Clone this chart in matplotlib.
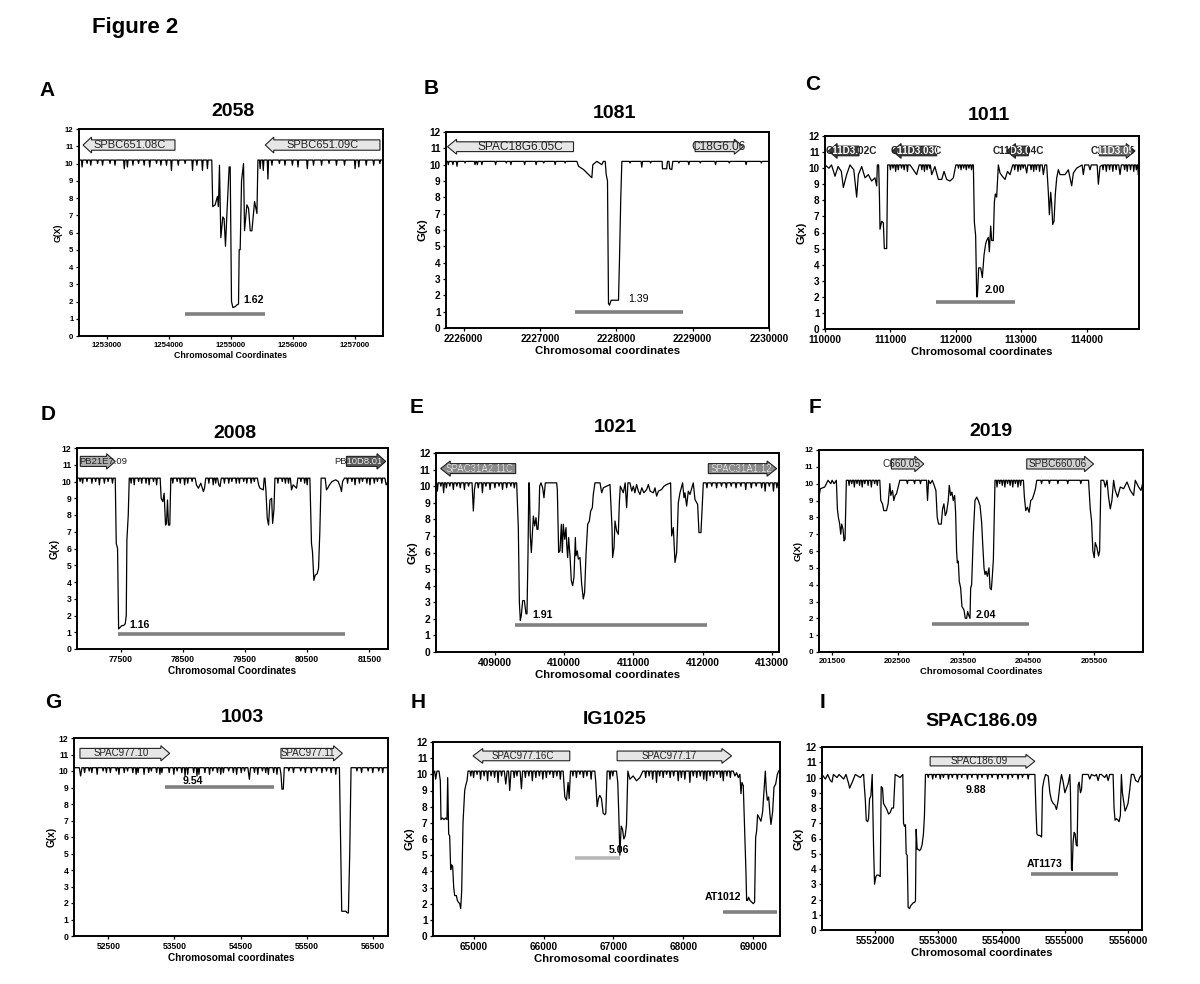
import matplotlib
matplotlib.use('Agg')
import matplotlib.pyplot as plt
from matplotlib.patches import Polygon
from matplotlib.transforms import Bbox, TransformedBbox

plt.rcParams['font.family'] = ['Liberation Sans', 'DejaVu Sans']

BASE = 10.2

# ---------------- data ----------------
A_trace = [(1252550, 10.2), (1254690, 10.2), (1254706, 7.5), (1254744, 7.6), (1254782, 8.1), (1254798, 7.5),
           (1254814, 9.9), (1254836, 5.7), (1254868, 6.9), (1254889, 6.8), (1254911, 5.2), (1254933, 7.0),
           (1254970, 9.8), (1254987, 9.8), (1255008, 2.0), (1255030, 1.65), (1255067, 1.7), (1255094, 1.8),
           (1255121, 1.85), (1255132, 5.0), (1255148, 5.0), (1255170, 9.0), (1255202, 10.0), (1255218, 6.1),
           (1255256, 7.6), (1255283, 7.4), (1255310, 6.1), (1255337, 6.1), (1255380, 7.8), (1255418, 7.1),
           (1255434, 10.2), (1257450, 10.2)]
A_flick = [(1252600, 9.8), (1252680, 10.0), (1252740, 9.9), (1252850, 10.0), (1252930, 9.9), (1253050, 10.0),
           (1253130, 9.9), (1253280, 9.7), (1253330, 9.8), (1253420, 9.9), (1253510, 10.0), (1253600, 9.9),
           (1253690, 9.8), (1253800, 10.0), (1253870, 9.9), (1253960, 9.9), (1254040, 9.6), (1254150, 9.9),
           (1254260, 10.0), (1254380, 9.6), (1254450, 9.9), (1254540, 9.6), (1254620, 9.7), (1255470, 9.7),
           (1255520, 9.6), (1255595, 9.1), (1255660, 9.9), (1255780, 10.0), (1255870, 9.9), (1255990, 9.9),
           (1256080, 9.8), (1256230, 9.7), (1256330, 9.9), (1256460, 9.9), (1256580, 10.0), (1256700, 9.9),
           (1256830, 9.9), (1257000, 9.7), (1257060, 9.8), (1257180, 9.9), (1257300, 9.9), (1257400, 10.0)]

B_trace = [(2225770, 10.2), (2227484, 10.2), (2227506, 9.9), (2227571, 9.7), (2227615, 9.5), (2227658, 9.3),
           (2227680, 9.2), (2227693, 10.0), (2227745, 10.2), (2227811, 10.0), (2227830, 10.2), (2227855, 10.2),
           (2227868, 9.4), (2227885, 9.0), (2227898, 1.5), (2227911, 1.4), (2227933, 1.7), (2228007, 1.7),
           (2228029, 1.7), (2228042, 4.2), (2228059, 8.0), (2228073, 10.2), (2228600, 10.2), (2228605, 9.75),
           (2228660, 9.75), (2228670, 10.2), (2228690, 10.2), (2228700, 9.75), (2228727, 9.7), (2228740, 10.2),
           (2230000, 10.2)]
B_flick = [(2225800, 10.0), (2225860, 10.0), (2225914, 9.9), (2226020, 10.1), (2226150, 10.0), (2226180, 10.0),
           (2226240, 10.0), (2226420, 10.0), (2226560, 10.1), (2226620, 10.0), (2226800, 10.0), (2226950, 10.0),
           (2227050, 10.1), (2227200, 10.0), (2227330, 10.1), (2228180, 10.1), (2228334, 9.85), (2228450, 10.1),
           (2228820, 10.1), (2228950, 10.0), (2229100, 10.1), (2229300, 10.0), (2229480, 10.1), (2229700, 10.0),
           (2229900, 10.1)]

C_trace = [(110000, 10.2), (110060, 10.0), (110100, 10.2), (110153, 9.5), (110200, 10.1), (110250, 9.8),
           (110280, 8.8), (110331, 9.6), (110382, 10.2), (110440, 9.9), (110484, 8.2), (110510, 9.6),
           (110561, 10.1), (110612, 9.4), (110662, 9.6), (110713, 9.2), (110764, 9.4), (110790, 8.9),
           (110800, 10.2), (110820, 10.2), (110831, 8.5), (110841, 6.2), (110866, 6.7), (110892, 6.6),
           (110907, 5.0), (110943, 5.0), (110958, 10.2), (111300, 10.2), (111401, 9.6), (111440, 10.2),
           (111631, 9.6), (111680, 10.1), (111733, 9.3), (111784, 9.3), (111820, 9.8), (111860, 9.3),
           (111911, 9.2), (111962, 9.4), (112000, 10.2), (112268, 10.2), (112283, 6.65), (112303, 5.8),
           (112319, 2.0), (112329, 2.0), (112349, 3.8), (112380, 3.8), (112405, 3.2), (112431, 4.6),
           (112456, 5.3), (112471, 5.5), (112497, 5.7), (112512, 4.8), (112533, 6.4), (112548, 5.5),
           (112573, 5.5), (112589, 7.9), (112604, 8.4), (112624, 8.2), (112650, 10.2), (112675, 9.7),
           (112710, 9.5), (112752, 9.3), (112790, 9.8), (112828, 9.6), (112870, 10.2), (113060, 10.2),
           (113083, 9.7), (113100, 10.2), (113320, 10.2), (113338, 9.6), (113360, 10.2), (113389, 10.2),
           (113414, 8.5), (113430, 7.1), (113450, 8.5), (113465, 7.8), (113481, 6.5), (113501, 6.7),
           (113521, 8.4), (113542, 9.4), (113567, 9.9), (113593, 9.6), (113669, 9.6), (113720, 9.9),
           (113771, 8.9), (113797, 9.7), (113847, 10.0), (113930, 10.2), (113949, 9.6), (113970, 10.2),
           (114030, 10.2), (114051, 9.9), (114070, 10.2), (114160, 10.2), (114179, 9.0), (114204, 10.1),
           (114490, 10.2), (114510, 9.6), (114530, 10.2), (114780, 10.2), (114790, 9.6), (114800, 9.8)]
C_flick = [(111000, 9.9), (111040, 10.0), (111080, 9.8), (111120, 9.9), (111170, 10.0), (111210, 9.9),
           (111260, 9.8), (111480, 9.9), (111520, 9.8), (111560, 9.9), (111600, 10.0), (112040, 10.0),
           (112080, 9.9), (112120, 10.0), (112160, 9.9), (112200, 10.0), (112240, 9.9), (112900, 9.9),
           (112950, 9.8), (112990, 9.9), (113030, 10.0), (113150, 9.9), (113190, 9.8), (113230, 9.9),
           (113280, 9.8), (114250, 9.9), (114300, 9.8), (114350, 9.9), (114400, 9.8), (114450, 9.9),
           (114580, 9.9), (114620, 9.8), (114670, 9.9), (114720, 9.8), (114760, 9.9)]

D_trace = [(76800, 10.2), (77415, 10.2), (77431, 6.3), (77452, 6.0), (77469, 1.2), (77495, 1.3), (77522, 1.4),
           (77549, 1.4), (77575, 1.5), (77592, 2.0), (77602, 6.5), (77624, 8.0), (77640, 10.2), (78137, 10.2),
           (78153, 9.0), (78180, 8.8), (78201, 9.3), (78223, 7.4), (78239, 7.5), (78255, 8.9), (78271, 7.4),
           (78292, 7.4), (78308, 10.2), (78700, 10.2), (78720, 9.8), (78752, 9.6), (78790, 9.9), (78832, 9.4),
           (78850, 9.6), (78870, 10.2), (79060, 10.2), (79080, 9.8), (79100, 9.7), (79120, 10.2), (79700, 10.2),
           (79720, 9.8), (79741, 9.6), (79795, 9.5), (79810, 10.2), (79822, 10.2), (79838, 9.4), (79859, 7.8),
           (79880, 7.4), (79902, 8.9), (79929, 9.0), (79945, 7.5), (79966, 8.3), (79982, 10.2), (80230, 10.2),
           (80249, 9.5), (80275, 9.8), (80330, 9.6), (80350, 10.2), (80544, 10.2), (80570, 6.3), (80586, 5.8),
           (80608, 4.1), (80629, 4.4), (80661, 4.5), (80683, 4.8), (80704, 7.0), (80725, 10.2), (80790, 10.2),
           (80811, 9.5), (80830, 9.6), (80860, 9.8), (80900, 10.0), (80960, 10.1), (81000, 10.0), (81040, 9.6),
           (81052, 9.4), (81070, 10.0), (81100, 10.2), (81750, 10.2), (81770, 9.8), (81800, 10.0)]
D_flick = [(76850, 10.0), (76890, 9.9), (76960, 10.0), (77040, 9.9), (77100, 10.0), (77160, 9.8), (77240, 9.9),
           (77300, 10.0), (77370, 9.9), (77670, 9.9), (77720, 9.8), (77790, 10.0), (77840, 9.9), (77910, 9.9),
           (77960, 9.8), (78030, 10.0), (78080, 9.8), (78340, 9.9), (78410, 10.0), (78460, 9.9), (78530, 9.8),
           (78580, 9.9), (78650, 10.0), (78920, 9.9), (78990, 9.8), (79030, 9.9), (79170, 9.9), (79240, 9.9),
           (79290, 10.0), (79360, 9.9), (79410, 9.9), (79480, 10.0), (79530, 9.9), (79600, 9.9), (79650, 10.0),
           (80030, 9.9), (80100, 10.0), (80150, 9.9), (80200, 9.9), (80400, 10.0), (80460, 9.9), (80500, 9.8),
           (81150, 9.9), (81220, 10.0), (81270, 9.8), (81340, 9.9), (81390, 10.0), (81460, 9.9), (81510, 9.8),
           (81580, 9.9), (81630, 10.0), (81700, 9.9)]

E_trace = [(408150, 10.2), (408670, 10.2), (408689, 8.5), (408705, 9.8), (408720, 10.2), (409314, 10.2),
           (409338, 7.5), (409353, 3.0), (409367, 1.9), (409381, 2.2), (409401, 3.1), (409425, 3.1),
           (409449, 2.3), (409463, 2.3), (409478, 6.0), (409490, 10.2), (409497, 10.2), (409511, 7.0),
           (409526, 6.0), (409545, 7.5), (409555, 8.2), (409574, 7.6), (409593, 8.1), (409607, 7.4),
           (409622, 7.4), (409636, 8.4), (409646, 10.0), (409665, 10.2), (409689, 9.9), (409708, 9.3),
           (409728, 10.2), (409891, 10.2), (409901, 9.8), (409920, 6.0), (409939, 6.1), (409959, 7.7),
           (409973, 6.0), (409987, 7.7), (410007, 6.8), (410026, 7.5), (410036, 6.5), (410050, 5.7),
           (410064, 6.9), (410084, 5.8), (410103, 4.3), (410122, 4.0), (410141, 4.5), (410161, 6.9),
           (410170, 5.8), (410189, 6.1), (410204, 5.6), (410228, 5.7), (410252, 4.1), (410276, 3.2),
           (410295, 3.6), (410315, 5.9), (410339, 7.7), (410363, 7.9), (410382, 8.5), (410406, 8.7),
           (410420, 9.5), (410444, 10.2), (410517, 10.2), (410541, 9.6), (410565, 9.9), (410661, 10.1),
           (410690, 7.5), (410699, 5.7), (410719, 6.3), (410733, 7.9), (410757, 7.3), (410781, 7.1),
           (410796, 9.0), (410810, 10.0), (410853, 9.6), (410880, 10.2), (410901, 8.7), (410920, 10.2),
           (410949, 10.2), (410975, 9.7), (410998, 10.0), (411020, 9.6), (411045, 10.1), (411070, 9.7),
           (411094, 9.5), (411120, 9.9), (411150, 9.6), (411190, 9.8), (411215, 10.1), (411240, 9.7),
           (411286, 9.6), (411310, 9.9), (411334, 9.4), (411360, 9.7), (411406, 9.8), (411440, 10.0),
           (411479, 10.1), (411536, 10.2), (411551, 7.0), (411575, 7.5), (411599, 5.4), (411623, 6.0),
           (411647, 9.0), (411671, 9.6), (411709, 10.2), (411729, 9.3), (411743, 9.6), (411767, 8.8),
           (411791, 9.7), (411815, 9.5), (411863, 10.2), (411887, 9.2), (411926, 8.9), (411945, 7.2),
           (411974, 7.2), (412008, 10.2), (413100, 10.2)]
E_flick = [(408170, 9.7), (408220, 10.0), (408260, 9.6), (408300, 9.9), (408350, 10.0), (408400, 9.8),
           (408450, 10.0), (408500, 9.9), (408560, 9.8), (408620, 10.0), (408760, 9.9), (408820, 9.6),
           (408870, 10.0), (408930, 9.8), (409000, 9.9), (409060, 10.0), (409110, 9.8), (409170, 9.9),
           (409230, 10.0), (409280, 9.9), (412060, 9.9), (412130, 10.0), (412200, 9.9), (412270, 10.0),
           (412340, 9.9), (412410, 10.0), (412480, 9.9), (412550, 10.0), (412620, 9.8), (412700, 9.9),
           (412770, 10.0), (412850, 9.9), (412900, 9.7), (412960, 10.0), (413020, 9.7), (413070, 9.9)]

F_trace = [(201300, 9.2), (201320, 9.7), (201387, 9.8), (201438, 10.2), (201480, 10.0), (201500, 10.2),
           (201530, 10.0), (201565, 10.2), (201581, 8.5), (201596, 8.0), (201616, 7.6), (201632, 7.0),
           (201647, 7.6), (201667, 7.3), (201683, 6.6), (201698, 6.7), (201718, 10.2), (202229, 10.2),
           (202244, 9.0), (202270, 8.8), (202290, 8.4), (202331, 8.4), (202356, 8.8), (202382, 10.0),
           (202397, 9.3), (202423, 9.6), (202443, 9.0), (202463, 9.3), (202484, 9.4), (202509, 9.8),
           (202535, 10.2), (202943, 10.2), (202958, 9.0), (202974, 10.2), (203000, 10.0), (203030, 10.2),
           (203060, 9.9), (203086, 9.6), (203106, 8.0), (203127, 7.6), (203168, 7.6), (203188, 8.5),
           (203208, 8.8), (203229, 8.1), (203249, 8.3), (203275, 9.0), (203290, 9.9), (203311, 9.3),
           (203331, 9.5), (203351, 9.0), (203372, 9.3), (203387, 8.3), (203402, 6.0), (203413, 5.3),
           (203428, 5.4), (203443, 4.2), (203464, 3.8), (203484, 2.7), (203515, 2.5), (203535, 2.0),
           (203556, 2.0), (203571, 2.4), (203586, 2.2), (203607, 2.0), (203617, 3.8), (203632, 4.0),
           (203658, 7.0), (203683, 9.0), (203709, 9.2), (203734, 9.0), (203760, 8.7), (203785, 7.7),
           (203800, 6.5), (203821, 5.0), (203836, 4.6), (203852, 4.8), (203872, 4.5), (203897, 5.0),
           (203913, 3.8), (203933, 3.7), (203948, 4.5), (203964, 5.5), (203989, 10.2), (204423, 10.2),
           (204438, 9.2), (204459, 8.4), (204484, 8.6), (204510, 8.3), (204535, 9.0), (204561, 9.1),
           (204586, 9.4), (204607, 9.7), (204627, 10.2), (205418, 10.2), (205444, 8.5), (205464, 7.8),
           (205484, 6.0), (205505, 5.6), (205520, 6.5), (205546, 6.2), (205571, 5.7), (205587, 6.0),
           (205607, 10.2), (205650, 10.2), (205673, 9.8), (205700, 10.2), (205724, 9.2), (205750, 8.5),
           (205775, 9.0), (205801, 10.2), (205826, 9.6), (205862, 9.2), (205903, 9.8), (205954, 9.7),
           (206005, 10.1), (206056, 9.6), (206107, 9.3), (206132, 10.2), (206183, 9.8), (206219, 9.6),
           (206250, 10.1)]
F_flick = [(201760, 9.9), (201800, 10.0), (201840, 9.8), (201880, 10.0), (201920, 9.9), (201960, 9.8),
           (202000, 10.0), (202050, 9.9), (202100, 9.8), (202150, 10.0), (202190, 9.9), (202650, 10.0),
           (202760, 10.0), (202850, 10.0), (204020, 9.8), (204060, 10.0), (204100, 9.9), (204140, 9.8),
           (204180, 10.0), (204220, 9.9), (204260, 9.8), (204300, 10.0), (204340, 9.8), (204380, 9.9),
           (204700, 10.0), (204820, 10.0), (204950, 10.0), (205100, 10.0), (205300, 10.0)]

G_trace = [(51980, 10.2), (52060, 10.2), (52080, 9.7), (52100, 10.2), (54610, 10.2), (54633, 9.5),
           (54650, 10.2), (55095, 10.2), (55111, 9.8), (55126, 8.9), (55146, 8.9), (55161, 10.2),
           (55930, 10.2), (55940, 9.8), (55950, 10.2), (55995, 10.2), (56015, 5.0), (56030, 1.5),
           (56050, 1.5), (56090, 1.5), (56116, 1.4), (56131, 1.4), (56151, 5.0), (56171, 10.2), (56730, 10.2)]
G_flick = [(52140, 9.9), (52210, 10.0), (52250, 9.9), (52330, 9.8), (52420, 10.0), (52470, 9.9), (52530, 9.9),
           (52620, 10.0), (52660, 9.8), (52740, 9.9), (52790, 10.0), (52870, 9.9), (52920, 9.8), (52950, 9.9),
           (53040, 9.8), (53110, 9.9), (53150, 10.0), (53230, 9.9), (53280, 9.8), (53310, 9.9), (53420, 9.9),
           (53490, 9.8), (53540, 10.0), (53610, 9.9), (53660, 9.7), (53700, 9.8), (53790, 9.9), (53840, 9.7),
           (53870, 9.8), (53960, 9.9), (54030, 9.8), (54080, 10.0), (54150, 9.9), (54200, 9.8), (54240, 9.9),
           (54320, 10.0), (54390, 9.9), (54440, 9.8), (54510, 9.9), (54560, 10.0), (54710, 9.9), (54760, 9.8),
           (54830, 10.0), (54880, 9.9), (54920, 9.8), (55000, 9.9), (55050, 9.8), (55230, 10.0), (55300, 9.9),
           (55410, 10.0), (55480, 9.9), (55570, 9.9), (55650, 10.0), (55730, 9.9), (55800, 10.0), (55870, 9.9),
           (56260, 10.0), (56330, 9.9), (56430, 10.0), (56500, 9.9), (56590, 10.0), (56650, 9.9)]

H_trace = [(64420, 10.0), (64444, 10.2), (64458, 9.7), (64477, 10.2), (64506, 10.2), (64525, 9.6), (64534, 7.2),
           (64554, 7.3), (64577, 7.2), (64601, 7.3), (64620, 7.2), (64630, 9.8), (64644, 6.3), (64658, 6.2),
           (64673, 4.1), (64687, 4.4), (64701, 4.3), (64716, 3.0), (64730, 2.5), (64754, 2.5), (64768, 2.2),
           (64782, 2.1), (64802, 2.0), (64816, 1.7), (64830, 2.8), (64849, 7.0), (64873, 9.0), (64887, 9.3),
           (64906, 9.6), (64921, 10.2), (65440, 10.2), (65460, 9.4), (65480, 10.2), (65500, 10.2), (65517, 9.0),
           (65535, 10.2), (65665, 10.2), (65684, 9.1), (65700, 10.2), (66280, 10.2), (66304, 8.6), (66328, 8.4),
           (66351, 9.5), (66366, 8.5), (66385, 10.2), (66733, 10.2), (66747, 9.5), (66766, 8.0), (66785, 8.5),
           (66805, 8.7), (66828, 8.5), (66852, 7.6), (66876, 7.5), (66890, 7.6), (66909, 10.2), (67043, 10.2),
           (67061, 9.5), (67076, 7.5), (67091, 5.0), (67110, 6.8), (67129, 6.6), (67148, 6.0), (67167, 6.2),
           (67186, 6.9), (67205, 10.2), (67234, 9.7), (67281, 9.9), (67329, 9.6), (67377, 9.8), (67420, 10.2),
           (68712, 10.2), (68736, 9.9), (68760, 10.1), (68784, 9.8), (68807, 10.0), (68822, 8.8), (68836, 9.5),
           (68855, 9.3), (68879, 6.0), (68893, 4.0), (68903, 2.2), (68917, 2.2), (68931, 2.4), (68951, 2.2),
           (68974, 2.1), (68998, 2.0), (69017, 2.1), (69032, 6.1), (69046, 6.5), (69060, 7.5), (69084, 7.3),
           (69108, 7.1), (69132, 7.7), (69151, 9.0), (69170, 10.2), (69184, 9.0), (69199, 8.4), (69218, 8.6),
           (69237, 7.5), (69251, 6.9), (69275, 7.7), (69294, 9.2), (69318, 9.4), (69342, 10.0), (69361, 10.2),
           (69380, 10.3)]
H_flick = [(64960, 9.9), (65000, 9.8), (65050, 10.0), (65100, 9.7), (65150, 9.9), (65200, 9.6), (65250, 9.9),
           (65300, 9.8), (65350, 9.5), (65400, 9.9), (65580, 9.8), (65620, 9.9), (65740, 9.8), (65790, 9.9),
           (65840, 9.6), (65890, 9.8), (65940, 9.9), (65990, 9.7), (66040, 9.8), (66090, 10.0), (66140, 9.8),
           (66190, 9.9), (66240, 9.7), (66420, 9.9), (66470, 9.8), (66520, 10.0), (66570, 9.8), (66620, 9.9),
           (66680, 9.7), (66950, 9.7), (66990, 9.9), (67460, 9.8), (67510, 9.9), (67560, 9.7), (67615, 9.5),
           (67660, 9.9), (67710, 9.8), (67760, 10.0), (67810, 9.8), (67860, 9.9), (67925, 9.6), (67970, 9.8),
           (68020, 9.7), (68092, 9.5), (68140, 9.9), (68190, 9.8), (68240, 9.9), (68290, 9.7), (68331, 9.6),
           (68380, 9.9), (68430, 9.8), (68480, 10.0), (68530, 9.8), (68569, 9.6), (68620, 9.9), (68670, 9.8)]

I_trace = [(5551160, 10.2), (5551213, 9.9), (5551250, 10.2), (5551292, 9.8), (5551318, 9.7), (5551340, 10.2),
           (5551397, 10.0), (5551430, 10.2), (5551502, 9.9), (5551540, 10.2), (5551581, 9.6), (5551597, 9.3),
           (5551618, 9.5), (5551649, 9.8), (5551686, 10.2), (5551765, 10.0), (5551807, 10.2), (5551818, 10.2),
           (5551828, 9.5), (5551844, 8.6), (5551860, 7.2), (5551881, 7.1), (5551896, 7.3), (5551912, 8.6),
           (5551933, 8.8), (5551954, 10.2), (5551975, 5.5), (5551991, 3.0), (5552012, 3.5), (5552028, 3.6),
           (5552054, 3.6), (5552081, 3.5), (5552096, 9.4), (5552117, 9.3), (5552133, 8.3), (5552159, 8.1),
           (5552186, 7.9), (5552212, 7.6), (5552238, 7.7), (5552265, 8.0), (5552291, 8.0), (5552317, 10.2),
           (5552396, 10.0), (5552438, 10.2), (5552449, 7.0), (5552464, 6.8), (5552480, 6.9), (5552491, 5.0),
           (5552507, 4.9), (5552522, 1.5), (5552543, 1.4), (5552564, 1.6), (5552585, 1.7), (5552607, 1.8),
           (5552622, 1.8), (5552638, 1.9), (5552649, 6.6), (5552664, 5.3), (5552680, 5.3), (5552701, 5.2),
           (5552722, 5.3), (5552743, 5.6), (5552764, 6.3), (5552780, 7.5), (5552796, 10.2), (5554526, 10.2),
           (5554542, 8.0), (5554558, 6.3), (5554579, 6.2), (5554605, 6.2), (5554632, 6.1), (5554647, 9.3),
           (5554668, 9.8), (5554695, 10.2), (5554737, 10.1), (5554763, 9.0), (5554789, 8.5), (5554816, 8.3),
           (5554842, 8.2), (5554868, 7.9), (5554895, 8.5), (5554921, 9.5), (5554947, 10.2), (5554974, 9.7),
           (5555000, 9.0), (5555026, 9.3), (5555052, 9.6), (5555079, 10.2), (5555089, 9.0), (5555105, 4.0),
           (5555116, 3.9), (5555131, 5.8), (5555147, 6.4), (5555163, 6.3), (5555179, 5.6), (5555194, 5.5),
           (5555210, 9.5), (5555226, 9.7), (5555247, 9.0), (5555263, 9.2), (5555279, 10.2), (5555368, 10.2),
           (5555394, 9.9), (5555420, 10.2), (5555473, 10.1), (5555500, 10.2), (5555526, 9.8), (5555550, 10.2),
           (5555578, 10.2), (5555631, 10.0), (5555660, 10.2), (5555684, 9.8), (5555710, 10.2), (5555763, 10.2),
           (5555778, 8.0), (5555794, 7.2), (5555815, 7.3), (5555841, 7.2), (5555857, 7.1), (5555878, 7.5),
           (5555894, 10.2), (5555910, 9.0), (5555931, 8.4), (5555952, 7.8), (5555973, 8.0), (5555999, 8.3),
           (5556026, 9.2), (5556052, 10.2), (5556089, 10.2), (5556120, 9.8), (5556157, 9.7), (5556183, 10.0),
           (5556220, 10.2)]
I_flick = [(5552840, 10.0), (5552910, 9.9), (5552960, 10.0), (5553030, 9.9), (5553080, 10.0), (5553160, 9.9),
           (5553220, 10.0), (5553300, 9.9), (5553370, 10.0), (5553460, 9.9), (5553530, 10.0), (5553620, 9.9),
           (5553690, 10.0), (5553780, 9.9), (5553850, 10.0), (5553940, 9.9), (5554010, 10.0), (5554100, 9.9),
           (5554170, 10.0), (5554260, 9.9), (5554330, 10.0), (5554420, 9.9)]

letters = ['A', 'B', 'C', 'D', 'E', 'F', 'G', 'H', 'I']
titles = ['2058', '1081', '1011', '2008', '1021', '2019', '1003', 'IG1025', 'SPAC186.09']
xlabels = ['Chromosomal Coordinates', 'Chromosomal coordinates', 'Chromosomal coordinates',
           'Chromosomal Coordinates', 'Chromosomal coordinates', 'Chromosomal Coordinates',
           'Chromosomal coordinates', 'Chromosomal coordinates', 'Chromosomal coordinates']
ylabels = ['G(X)', 'G(x)', 'G(x)', 'G(x)', 'G(x)', 'G(X)', 'G(x)', 'G(x)', 'G(x)']
traces = [A_trace, B_trace, C_trace, D_trace, E_trace, F_trace, G_trace, H_trace, I_trace]
flicks = [A_flick, B_flick, C_flick, D_flick, E_flick, F_flick, G_flick, H_flick, I_flick]
xlims = [(1252550, 1257450), (2225770, 2230000), (110000, 114800), (76800, 81800), (408150, 413100),
         (201300, 206250), (51980, 56730), (64420, 69380), (5551160, 5556220)]
xtick_vals = [[1253000, 1254000, 1255000, 1256000, 1257000],
              [2226000, 2227000, 2228000, 2229000, 2230000],
              [110000, 111000, 112000, 113000, 114000],
              [77500, 78500, 79500, 80500, 81500],
              [409000, 410000, 411000, 412000, 413000],
              [201500, 202500, 203500, 204500, 205500],
              [52500, 53500, 54500, 55500, 56500],
              [65000, 66000, 67000, 68000, 69000],
              [5552000, 5553000, 5554000, 5555000, 5556000]]

# region bars: (start, end, G level)
bars = [[(1254260, 1255550, 1.28)],
        [(2227462, 2228879, 0.98)],
        [(111697, 112905, 1.67)],
        [(77452, 81105, 0.88)],
        [(409290, 412056, 1.65)],
        [(203020, 204515, 1.64)],
        [(53352, 55010, 9.06)],
        [(66447, 67100, 4.8), (68569, 69332, 1.5)],
        [(5554463, 5555841, 3.64)]]
# annotations: (x, y, text)
notes = [[(1255202, 2.1, '1.62')],
         [(2228160, 1.78, '1.39')],
         [(112446, 2.44, '2.00')],
         [(77645, 1.44, '1.16')],
         [(409545, 2.21, '1.91')],
         [(203698, 2.21, '2.04')],
         [(53618, 9.42, '9.54')],
         [(66938, 5.3, '5.06'), (68831, 2.43, 'AT1012')],
         [(5553595, 9.21, '9.88'), (5554405, 4.3, 'AT1173')]]
# genes: (tail, tip, y, name, name_x)
genes = [[(1254097, 1252615, 11.07, 'SPBC651.08C', 1253369), (1257401, 1255552, 11.07, 'SPBC651.09C', 1256480)],
         [(2227440, 2225790, 11.1, 'SPAC18G6.05C', 2226743), (2229032, 2229664, 11.1, 'C18G6.06', 2229337)],
         [(110520, 110051, 11.07, 'C11D3.02C', 110400), (111707, 111029, 11.07, 'C11D3.03C', 111400),
          (113108, 112777, 11.07, 'C11D3.04C', 112956), (114194, 114739, 11.07, 'C11D3.05', 114400)],
         [(76853, 77415, 11.2, 'PB21E7.09', 77220), (81132, 81763, 11.2, 'PB10D8.01', 81320)],
         [(409300, 408217, 11.06, 'SPAC31A2.11C', 408780), (412080, 413066, 11.06, 'SPAC31A1.12', 412560)],
         [(202407, 202902, 11.17, 'C660.05', 202560), (204474, 205495, 11.17, 'SPBC660.06', 204940)],
         [(52070, 53427, 11.07, 'SPAC977.10', 52700), (55111, 56040, 11.07, 'SPAC977.11', 55520)],
         [(66375, 64992, 11.14, 'SPAC977.16C', 65700), (67052, 68688, 11.14, 'SPAC977.17', 67800)],
         [(5552870, 5554526, 11.06, 'SPAC186.09', 5553650)]]

# ---------------- layout / styles ----------------
W, H = 1200, 984
# axes boxes in pixels: left, right, top, bottom
boxes = [(79, 383, 129, 336), (446, 769, 132, 328), (825, 1139, 136, 329),
         (77, 388, 448, 649), (436, 779, 453, 652), (819, 1143, 450, 652),
         (74, 388, 738, 936), (433, 780, 742, 936), (822, 1142, 747, 930)]
title_pos = [(233, 112), (614, 113), (989, 115), (235, 433), (615, 428), (991, 431),
             (242, 718), (615, 720), (982, 721)]
letter_pos = [(47, 90), (431, 88), (813, 85), (48, 415), (417, 408), (815, 408),
              (53, 702), (418, 702), (822, 702)]
tick_fs = [5.6, 7.2, 7.2, 6.2, 7.4, 5.8, 6.2, 7.2, 7.2]
lab_fs = [6.3, 8.2, 8.0, 7.2, 8.2, 6.8, 7.2, 8.2, 8.0]
note_w = ['bold', 'normal', 'bold', 'bold', 'bold', 'bold', 'bold', 'bold', 'bold']
gene_fs = [8.0, 8.6, 7.2, 6.8, 7.0, 7.2, 7.0, 7.0, 7.2]
gene_wt = ['normal', 'normal', 'bold', 'normal', 'normal', 'normal', 'normal', 'normal', 'normal']
gene_fill = [['#e6e6e6', '#e6e6e6'], ['#e6e6e6', '#dcdcdc'],
             ['#3a3a3a', '#3a3a3a', '#3a3a3a', '#6a6a6a'],
             ['#b0b0b0', '#5a5a5a'], ['#8a8a8a', '#8a8a8a'], ['#d2d2d2', '#d2d2d2'],
             ['#e6e6e6', '#e6e6e6'], ['#e6e6e6', '#e6e6e6'], ['#e6e6e6']]
gene_inner = [[None, None], [None, None], ['white'] * 4, [None, 'white'], ['#f2f2f2', '#f2f2f2'],
              [None, None], [None, None], [None, None], [None]]
bar_col = [['#808080'], ['#808080'], ['#808080'], ['#808080'], ['#808080'], ['#808080'],
           ['#808080'], ['#b8b8b8', '#808080'], ['#808080']]
note_ha = [['left'], ['left'], ['left'], ['left'], ['left'], ['left'], ['left'], ['left', 'right'],
           ['center', 'left']]


def build(trace, flick, w):
    pts = list(trace)
    for x, g in flick:
        pts += [(x - w, BASE), (x, g), (x + w, BASE)]
    pts.sort()
    return [p[0] for p in pts], [p[1] for p in pts]


def gene_arrow(ax, tail, tip, y, name, nx, fill, inner, span, fs, wt):
    hl = 0.028 * span
    hb, hh = 0.3, 0.46
    d = 1 if tip > tail else -1
    neck = tip - d * hl
    pts = [(tail, y - hb), (neck, y - hb), (neck, y - hh), (tip, y),
           (neck, y + hh), (neck, y + hb), (tail, y + hb)]
    poly = Polygon(pts, closed=True, fc=fill, ec='#222222', lw=0.8, zorder=3)
    ax.add_patch(poly)
    ax.text(nx, y, name, ha='center', va='center', fontsize=fs, fontweight=wt, color='#222222', zorder=4)
    if inner:
        # light lettering only where the text lies on the dark arrow body
        lo, hi = sorted((tail, (neck + tip) / 2))
        box = TransformedBbox(Bbox([[lo, y - hh], [hi, y + hh]]), ax.transData)
        t = ax.text(nx, y, name, ha='center', va='center', fontsize=fs, fontweight=wt, color=inner, zorder=5)
        t.set_clip_on(True)
        t.set_clip_box(box)


fig = plt.figure(figsize=(W / 100, H / 100), dpi=100)
fig.text(92 / W, 1 - 28 / H, 'Figure 2', fontsize=16, fontweight='bold', va='center', ha='left')

for i in range(9):
    l, r, t, b = boxes[i]
    ax = fig.add_axes([l / W, 1 - b / H, (r - l) / W, (b - t) / H])
    span = xlims[i][1] - xlims[i][0]
    xs, ys = build(traces[i], flicks[i], 0.0022 * span)
    ax.plot(xs, ys, color='black', lw=0.9, zorder=2)
    for (x0, x1, yb), c in zip(bars[i], bar_col[i]):
        ax.plot([x0, x1], [yb, yb], color=c, lw=2.6, solid_capstyle='butt', zorder=2)
    for (nx, ny, txt), ha in zip(notes[i], note_ha[i]):
        ax.text(nx, ny, txt, ha=ha, va='center', fontsize=7.6, fontweight=note_w[i], zorder=4)
    for (tail, tip, gy, name, nx), fc, inn in zip(genes[i], gene_fill[i], gene_inner[i]):
        gene_arrow(ax, tail, tip, gy, name, nx, fc, inn, span, gene_fs[i], gene_wt[i])
    ax.set_xlim(*xlims[i])
    ax.set_ylim(0, 12)
    ax.set_yticks(range(13))
    ax.set_xticks(xtick_vals[i])
    ax.set_xticklabels([str(v) for v in xtick_vals[i]], fontweight='bold')
    ax.set_yticklabels([str(v) for v in range(13)], fontweight='bold')
    ax.tick_params(labelsize=tick_fs[i], length=2.5, width=0.9, pad=1.5)
    for s in ax.spines.values():
        s.set_linewidth(1.4)
    ax.set_xlabel(xlabels[i], fontsize=lab_fs[i], fontweight='bold', labelpad=1.5)
    ax.set_ylabel(ylabels[i], fontsize=lab_fs[i], fontweight='bold', labelpad=1.5)
    tx, ty = title_pos[i]
    fig.text(tx / W, 1 - ty / H, titles[i], fontsize=14, fontweight='bold', ha='center', va='center')
    lx, ly = letter_pos[i]
    fig.text(lx / W, 1 - ly / H, letters[i], fontsize=15, fontweight='bold', ha='center', va='center')

fig.savefig('out.png', dpi=100)
